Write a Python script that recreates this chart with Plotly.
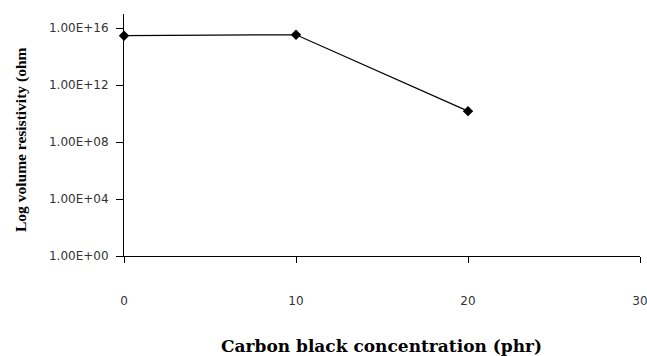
import plotly.graph_objects as go

# Carbon black loading (phr) vs. volume resistivity (ohm·cm)
concentration = [0, 10, 20]
resistivity = [3.0e15, 3.5e15, 1.5e10]

y_tick_vals = [1e0, 1e4, 1e8, 1e12, 1e16]
y_tick_text = ["1.00E+00", "1.00E+04", "1.00E+08", "1.00E+12", "1.00E+16"]
x_tick_vals = [0, 10, 20, 30]

W, H = 647, 356
L, R, T, B = 124, 7, 14, 100
PW, PH = W - L - R, H - T - B

fig = go.Figure()
fig.add_trace(go.Scatter(
    x=concentration, y=resistivity,
    mode="lines+markers",
    line=dict(color="black", width=1.2),
    marker=dict(symbol="diamond", size=8, color="black"),
    showlegend=False,
    cliponaxis=False,
))

tick_font = dict(family="DejaVu Sans, sans-serif", size=12, color="#333")

fig.update_xaxes(
    range=[0, 30], tickvals=x_tick_vals,
    showline=True, linecolor="black", linewidth=1,
    ticks="outside", ticklen=6, tickcolor="black",
    ticklabelstandoff=28, ticklabeloverflow="allow",
    showgrid=False, zeroline=False, automargin=False,
    tickfont=tick_font,
)
fig.update_yaxes(
    type="log", range=[0, 17],
    tickvals=y_tick_vals, ticktext=y_tick_text,
    showline=True, linecolor="black", linewidth=1,
    ticks="outside", ticklen=7, tickcolor="black",
    ticklabelstandoff=5,
    showgrid=False, zeroline=False, automargin=False,
    tickfont=tick_font,
)

fig.add_annotation(
    text="<b>Carbon black concentration (phr)</b>",
    xref="paper", yref="paper", x=(381 - L) / PW, y=(H - B - 346) / PH,
    showarrow=False, xanchor="center", yanchor="middle",
    font=dict(family="DejaVu Serif, serif", size=17, color="black"),
)
fig.add_annotation(
    text="<b>Log volume resistivity (ohm</b>",
    xref="paper", yref="paper", x=(21 - L) / PW, y=(H - B - 140) / PH,
    showarrow=False, textangle=-90, xanchor="center", yanchor="middle",
    font=dict(family="Liberation Serif, Times New Roman, serif", size=15.5, color="black"),
)

fig.update_layout(
    width=W, height=H,
    margin=dict(l=L, r=R, t=T, b=B),
    paper_bgcolor="white", plot_bgcolor="white",
)

fig.write_html("out.html")
